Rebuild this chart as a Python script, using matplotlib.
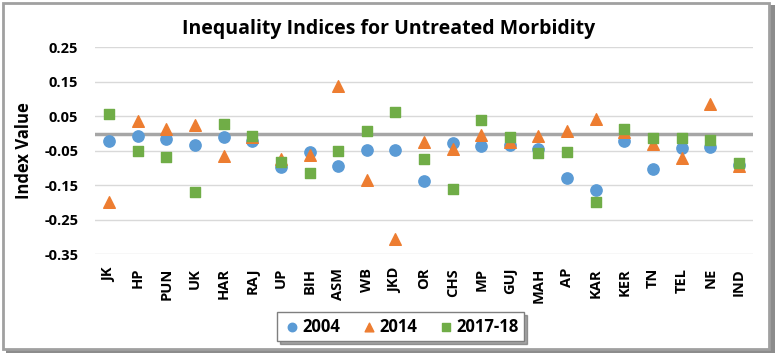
import matplotlib.pyplot as plt
from matplotlib.patches import Rectangle

# Datos
states = ['JK', 'HP', 'PUN', 'UK', 'HAR', 'RAJ', 'UP', 'BIH', 'ASM', 'WB', 'JKD', 'OR',
          'CHS', 'MP', 'GUJ', 'MAH', 'AP', 'KAR', 'KER', 'TN', 'TEL', 'NE', 'IND']
v2004 = [-0.023, -0.007, -0.015, -0.034, -0.010, -0.021, -0.096, -0.053, -0.095, -0.048,
         -0.048, -0.138, -0.028, -0.035, -0.033, -0.046, -0.128, -0.163, -0.021, -0.102,
         -0.041, -0.038, -0.090]
v2014 = [-0.200, 0.035, 0.012, 0.025, -0.065, -0.010, -0.075, -0.063, 0.138, -0.136,
         -0.305, -0.024, -0.044, -0.005, -0.025, -0.006, 0.007, 0.041, 0.005, -0.031,
         -0.070, 0.087, -0.094]
v2017 = [0.058, -0.052, -0.068, -0.170, 0.028, -0.006, -0.082, -0.116, -0.052, 0.008,
         0.064, -0.075, -0.160, 0.038, -0.010, -0.058, -0.054, -0.198, 0.012, -0.012,
         -0.014, -0.018, -0.085]
yticks = [0.25, 0.15, 0.05, -0.05, -0.15, -0.25, -0.35]

plt.rcParams['font.family'] = ['Open Sans', 'DejaVu Sans']

fig = plt.figure(figsize=(7.78, 3.57), dpi=100)

# Marco con sombra
fig.patches.append(Rectangle((0.008, 0.012), 0.988, 0.975, transform=fig.transFigure,
                             facecolor='#8c8c8c', edgecolor='none', zorder=0))
fig.patches.append(Rectangle((0.004, 0.022), 0.985, 0.97, transform=fig.transFigure,
                             facecolor='white', edgecolor='#a0a0a0', linewidth=2, zorder=1))

ax = fig.add_axes([0.122, 0.2885, 0.846, 0.5785])
ax.set_zorder(3)
ax.set_facecolor('none')
x = list(range(len(states)))

ax.scatter(x, v2004, marker='o', s=66, color='#5B9BD5', label='2004', zorder=3)
ax.scatter(x, v2014, marker='^', s=70, color='#ED7D31', label='2014', zorder=3)
ax.scatter(x, v2017, marker='s', s=56, color='#70AD47', label='2017-18', zorder=3)

ax.set_ylim(-0.35, 0.25)
ax.set_xlim(-0.5, len(states) - 0.5)
ax.set_yticks(yticks)
ax.set_yticklabels(['%.2f' % v for v in yticks], fontweight='bold', fontsize=10.5)
ax.set_xticks(x)
ax.set_xticklabels(states, rotation=90, fontweight='bold', fontsize=10.5)
ax.tick_params(length=0, pad=10)
ax.tick_params(axis='y', pad=12)
ax.grid(axis='y', color='#d9d9d9', linewidth=1)
ax.axhline(0, color='#a6a6a6', linewidth=2.5, zorder=2)
for s in ax.spines.values():
    s.set_visible(False)

ax.set_ylabel('Index Value', fontweight='bold', fontsize=12, labelpad=8)
fig.text(0.5, 0.92, 'Inequality Indices for Untreated Morbidity', ha='center', va='center',
         fontweight='bold', fontsize=14)

leg = fig.legend(loc='center', bbox_to_anchor=(0.515, 0.085), ncol=3, fancybox=False, shadow=True,
                 edgecolor='#7f7f7f', prop={'weight': 'bold', 'size': 12}, handletextpad=0.05,
                 columnspacing=1.2, borderpad=0.35, handlelength=1.1, markerscale=0.75)
leg.set_zorder(4)

fig.savefig('out.png', dpi=100)
